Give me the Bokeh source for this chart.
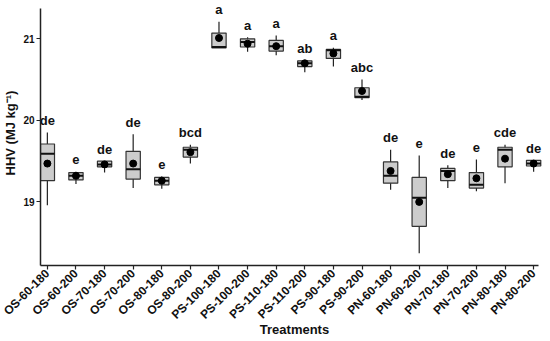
import math
from bokeh.plotting import figure
from bokeh.models import ColumnDataSource, FixedTicker, Range1d
from bokeh.core.properties import value
from bokeh.embed import file_html
from bokeh.resources import INLINE

cats = ["OS-60-180", "OS-60-200", "OS-70-180", "OS-70-200", "OS-80-180", "OS-80-200",
        "PS-100-180", "PS-100-200", "PS-110-180", "PS-110-200", "PS-90-180", "PS-90-200",
        "PN-60-180", "PN-60-200", "PN-70-180", "PN-70-200", "PN-80-180", "PN-80-200"]
whisker_high = [19.85, 19.37, 19.50, 19.83, 19.31, 19.70, 21.21, 21.02, 21.04, 20.73, 20.89, 20.50,
                19.64, 19.57, 19.45, 19.52, 19.70, 19.51]
q3 = [19.71, 19.36, 19.50, 19.62, 19.30, 19.67, 21.07, 21.00, 20.98, 20.73, 20.87, 20.40,
      19.49, 19.30, 19.41, 19.36, 19.67, 19.51]
median = [19.59, 19.32, 19.46, 19.40, 19.26, 19.64, 20.90, 20.96, 20.91, 20.70, 20.86, 20.29,
          19.32, 19.05, 19.38, 19.21, 19.64, 19.47]
q1 = [19.26, 19.27, 19.43, 19.28, 19.21, 19.55, 20.89, 20.90, 20.85, 20.66, 20.76, 20.28,
      19.23, 18.70, 19.26, 19.17, 19.43, 19.44]
whisker_low = [18.96, 19.22, 19.36, 19.17, 19.16, 19.47, 20.89, 20.84, 20.80, 20.59, 20.66, 20.25,
               19.15, 18.37, 19.17, 19.13, 19.23, 19.37]
means = [19.47, 19.32, 19.46, 19.47, 19.26, 19.61, 21.01, 20.94, 20.91, 20.70, 20.82, 20.36,
         19.38, 19.00, 19.34, 19.29, 19.53, 19.47]
letters = ["de", "e", "de", "de", "e", "bcd", "a", "a", "a", "ab", "a", "abc",
           "de", "e", "de", "e", "cde", "de"]
y_ticks = [19, 20, 21]

xs = list(range(1, len(cats) + 1))
bw = 0.5
src = ColumnDataSource(dict(
    x=xs, wh=whisker_high, q3=q3, med=median, q1=q1, wl=whisker_low, mean=means,
    lab=letters,
    x0=[x - bw / 2 for x in xs], x1=[x + bw / 2 for x in xs],
))

FONT = "Liberation Sans"
p = figure(width=550, height=341, output_backend="svg", toolbar_location=None,
           x_range=Range1d(0.76, 18.52), y_range=Range1d(18.22, 21.47),
           min_border_left=39, min_border_right=2, min_border_top=0, min_border_bottom=76)
p.outline_line_color = None
p.xgrid.grid_line_color = None
p.ygrid.grid_line_color = None

p.segment(x0="x", y0="wl", x1="x", y1="wh", source=src, line_color="#222222", line_width=1.2)
p.vbar(x="x", top="q3", bottom="q1", width=bw, source=src,
       fill_color="#cccccc", line_color="#333333", line_width=1.2)
p.segment(x0="x0", y0="med", x1="x1", y1="med", source=src, line_color="#111111", line_width=2)
p.scatter(x="x", y="mean", source=src, size=7, marker="circle",
          fill_color="black", line_color="black")
p.text(x="x", y="wh", text="lab", source=src, text_align="center", text_baseline="alphabetic",
       y_offset=-12, text_font=value(FONT), text_font_style="bold", text_font_size="13px",
       text_color="#111111")

xa = p.xaxis[0]
xa.ticker = FixedTicker(ticks=xs)
xa.major_label_overrides = {x: c for x, c in zip(xs, cats)}
xa.major_label_orientation = math.pi / 4
xa.axis_label = "Treatments"
xa.bounds = (0.76, 18.17)

ya = p.yaxis[0]
ya.ticker = FixedTicker(ticks=y_ticks)
ya.axis_label = "HHV (MJ kg\u207b\u00b9)"
ya.bounds = (18.22, 21.37)

for ax in (xa, ya):
    ax.axis_line_color = "#222222"
    ax.axis_line_width = 1.5
    ax.major_tick_line_color = "#222222"
    ax.major_tick_line_width = 1.2
    ax.major_tick_out = 4
    ax.major_tick_in = 0
    ax.minor_tick_line_color = None
    ax.major_label_text_font = FONT
    ax.major_label_text_font_style = "bold"
    ax.major_label_text_color = "#111111"
    ax.axis_label_text_font = FONT
    ax.axis_label_text_font_style = "bold"
    ax.axis_label_text_font_size = "13px"
    ax.axis_label_text_color = "#111111"

xa.major_label_text_font_size = "12px"
xa.major_label_standoff = 2
xa.axis_label_standoff = -8
ya.major_label_text_font_size = "10px"
ya.major_label_standoff = 2
ya.axis_label_standoff = 2

open("out.html", "w").write(file_html(p, INLINE))
